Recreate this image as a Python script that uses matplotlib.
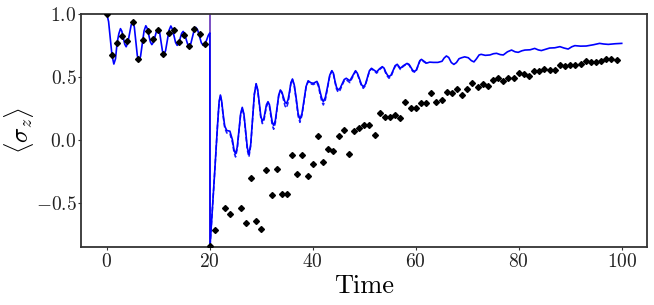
import numpy as np
import matplotlib
matplotlib.use("Agg")
import matplotlib.pyplot as plt

plt.rcParams['font.family'] = 'serif'
plt.rcParams['font.serif'] = ['cmr10']
plt.rcParams['mathtext.fontset'] = 'cm'
plt.rcParams['axes.formatter.use_mathtext'] = True
plt.rcParams['axes.unicode_minus'] = True

nan = np.nan

# measured points (black diamonds), t = 0..99
t_data = np.arange(0, 100)
sz_data = [1.0, 0.672, 0.772, 0.828, 0.786, 0.936, 0.645, 0.796, 0.865, 0.804,
           0.870, 0.685, 0.847, 0.870, 0.780, 0.831, 0.746, 0.884, 0.841, 0.762,
           -0.84, -0.714, nan, -0.542, -0.587, nan, -0.537, -0.656, -0.304, -0.640,
           -0.709, -0.238, -0.439, -0.228, -0.431, -0.429, -0.119, -0.270, -0.119, -0.283,
           -0.190, 0.034, -0.175, -0.071, -0.085, 0.034, 0.082, -0.109, 0.074, 0.095,
           0.122, 0.119, 0.040, 0.214, 0.183, 0.183, 0.201, 0.175, 0.302, 0.251,
           0.251, 0.291, 0.296, 0.370, 0.299, 0.317, 0.378, 0.376, 0.405, 0.355,
           0.407, 0.450, 0.421, 0.447, 0.431, 0.479, 0.492, 0.466, 0.494, 0.494,
           0.529, 0.527, 0.511, 0.545, 0.550, 0.566, 0.553, 0.556, 0.593, 0.590,
           0.593, 0.593, 0.603, 0.627, 0.617, 0.622, 0.627, 0.640, 0.645, 0.637]

# exact simulated curve (solid), read in three stretches
t_exact_early = [0.0, 0.34, 0.68, 1.0, 1.36, 1.68, 2.0, 2.33, 2.65, 2.92,
                 3.2, 3.47, 3.75, 4.07, 4.4, 4.72, 5.05, 5.34, 5.63, 5.92,
                 6.21, 6.55, 6.89, 7.23, 7.57, 7.86, 8.15, 8.45, 8.74, 9.05,
                 9.35, 9.66, 9.97, 10.25, 10.52, 10.8, 11.07, 11.41, 11.75, 12.09,
                 12.43, 12.74, 13.05, 13.35, 13.66, 13.95, 14.24, 14.53, 14.82, 15.11,
                 15.4, 15.7, 15.99, 16.31, 16.63, 16.96, 17.28, 17.64, 17.99, 18.35,
                 18.7, 19.0, 19.35, 19.7, 20.0]
sz_exact_early = [1.0, 0.94, 0.80, 0.672, 0.603, 0.644, 0.772, 0.843, 0.884, 0.863,
                  0.812, 0.761, 0.74, 0.77, 0.84, 0.912, 0.942, 0.896, 0.783, 0.67,
                  0.624, 0.665, 0.765, 0.866, 0.907, 0.885, 0.832, 0.779, 0.757, 0.776,
                  0.82, 0.865, 0.884, 0.854, 0.78, 0.707, 0.677, 0.71, 0.79, 0.872,
                  0.905, 0.88, 0.828, 0.774, 0.751, 0.767, 0.806, 0.846, 0.862, 0.845,
                  0.80, 0.76, 0.743, 0.765, 0.818, 0.872, 0.894, 0.873, 0.822, 0.772,
                  0.751, 0.762, 0.79, 0.83, 0.85]

t_mid = [20.05, 20.5, 21.0, 21.5, 21.8, 22.05, 22.3, 22.6, 22.9, 23.3,
         23.9, 24.4, 24.7, 25.0, 25.33, 25.65, 25.98, 26.3, 26.63, 26.95,
         27.28, 27.6, 27.95, 28.3, 28.65, 29.0, 29.3, 29.6, 29.9, 30.2,
         30.5, 30.75, 31.0, 31.3, 31.58, 31.85, 32.13, 32.4, 32.73, 33.05,
         33.38, 33.7, 34.0, 34.3, 34.6, 34.9, 35.2, 35.5, 35.75, 36.05,
         36.4, 36.8, 37.15, 37.5, 37.9, 38.3, 38.7, 39.1, 39.6, 40.1,
         40.8, 41.1, 41.4, 41.75, 42.05, 42.45, 42.9, 43.3, 43.7, 44.0,
         44.3, 44.6, 44.9, 45.3, 45.7, 46.1, 46.5, 47.2, 48.3, 48.65,
         49.05, 49.45, 49.8, 50.2, 50.6, 51.0, 51.4, 51.9, 52.4, 52.95,
         53.5, 53.85, 54.15, 54.5, 54.8, 55.2, 55.6, 56.0, 56.4, 57.0,
         57.6, 58.3, 58.7, 59.05, 59.4, 59.8, 60.1, 60.45, 60.8, 61.1,
         61.6, 62.1]
sz_exact_mid = [-0.84, -0.55, -0.22, 0.12, 0.30, 0.357, 0.31, 0.2, 0.11, 0.075,
                0.07, 0.0, -0.08, -0.11, -0.056, 0.075, 0.205, 0.259, 0.204, 0.072,
                -0.06, -0.115, -0.033, 0.166, 0.365, 0.447, 0.40, 0.30, 0.19, 0.15,
                0.17, 0.227, 0.28, 0.304, 0.28, 0.21, 0.14, 0.115, 0.156, 0.256,
                0.356, 0.397, 0.38, 0.34, 0.30, 0.29, 0.32, 0.39, 0.455, 0.484,
                0.437, 0.324, 0.21, 0.164, 0.21, 0.317, 0.425, 0.47, 0.455, 0.45,
                0.465, 0.44, 0.385, 0.33, 0.304, 0.34, 0.43, 0.515, 0.55, 0.53,
                0.47, 0.42, 0.397, 0.41, 0.445, 0.48, 0.49, 0.47, 0.55, 0.53,
                0.487, 0.44, 0.423, 0.44, 0.496, 0.55, 0.569, 0.555, 0.54, 0.565,
                0.582, 0.57, 0.54, 0.515, 0.503, 0.515, 0.552, 0.59, 0.601, 0.569,
                0.59, 0.608, 0.60, 0.577, 0.553, 0.545, 0.555, 0.592, 0.63, 0.640,
                0.625, 0.61]

t_exact_late = [62.7, 63.4, 64.3, 65.1, 65.5, 65.95, 66.4, 66.9, 67.4, 67.9,
                68.4, 68.9, 69.5, 70.2, 70.8, 71.3, 71.8, 72.3, 72.7, 73.5,
                74.4, 75.1, 75.7, 76.4, 77.0, 77.8, 78.6, 79.3, 79.9, 80.6,
                81.2, 82.2, 83.1, 83.8, 84.4, 85.2, 86.0, 87.0, 88.0, 88.8,
                89.6, 90.3, 90.9, 92.0, 93.1, 94.5, 95.7, 96.5, 97.4, 98.7,
                100.0]
sz_exact_late = [0.618, 0.616, 0.616, 0.625, 0.65, 0.667, 0.655, 0.615, 0.60, 0.615,
                 0.645, 0.653, 0.66, 0.653, 0.63, 0.62, 0.645, 0.675, 0.68, 0.672,
                 0.675, 0.685, 0.688, 0.678, 0.675, 0.70, 0.714, 0.70, 0.696, 0.708,
                 0.714, 0.716, 0.727, 0.715, 0.71, 0.72, 0.73, 0.732, 0.741, 0.73,
                 0.722, 0.74, 0.749, 0.745, 0.746, 0.756, 0.767, 0.762, 0.759, 0.764,
                 0.767]

# approximate curve (dashed), where it separates from the exact one
sz_approx_mid = [-0.84, -0.55, -0.22, 0.12, 0.30, 0.355, 0.30, 0.185, 0.095, 0.055,
                 0.05, -0.02, -0.10, -0.135, -0.07, 0.065, 0.20, 0.255, 0.195, 0.06,
                 -0.08, -0.135, -0.045, 0.16, 0.36, 0.445, 0.39, 0.285, 0.175, 0.13,
                 0.15, 0.21, 0.265, 0.29, 0.265, 0.19, 0.115, 0.085, 0.135, 0.245,
                 0.35, 0.39, 0.37, 0.32, 0.27, 0.255, 0.295, 0.375, 0.45, 0.48,
                 0.43, 0.31, 0.19, 0.14, 0.195, 0.305, 0.42, 0.465, 0.445, 0.44,
                 0.455, 0.425, 0.365, 0.305, 0.278, 0.32, 0.42, 0.51, 0.548, 0.525,
                 0.46, 0.405, 0.38, 0.395, 0.435, 0.47, 0.478, 0.455, 0.545, 0.525,
                 0.477, 0.43, 0.41, 0.43, 0.49, 0.545, 0.565, 0.55, 0.53, 0.558,
                 0.578, 0.565, 0.532, 0.505, 0.49, 0.505, 0.545, 0.585, 0.597, 0.56,
                 0.585, 0.605, 0.595, 0.57, 0.545, 0.538, 0.55, 0.588, 0.628, 0.638,
                 0.62, 0.607]

x_ticks = [0, 20, 40, 60, 80, 100]
y_ticks = [-0.5, 0.0, 0.5, 1.0]

t_exact = t_exact_early + t_mid + t_exact_late
sz_exact = sz_exact_early + sz_exact_mid + sz_exact_late

fig = plt.figure(figsize=(6.54, 3.05), dpi=100)
ax = fig.add_axes([0.124, 0.19, 0.866, 0.764])

ax.axvline(20, color='#7a4fc4', lw=1.4, zorder=1)
ax.plot(t_mid, sz_approx_mid, color='#1a1aff', lw=1.1, ls='--', dashes=(3, 1.5), zorder=2)
ax.plot(t_exact, sz_exact, color='#0000ff', lw=1.2, zorder=3)
ax.plot(t_data, sz_data, ls='none', marker='D', color='black', markersize=3, zorder=4)

ax.set_xlim(-5, 105)
ax.set_ylim(-0.85, 1.0)
ax.set_xticks(x_ticks)
ax.set_yticks(y_ticks)
ax.tick_params(labelsize=14, direction='out', length=2.5, width=0.8, pad=0.8,
               colors='#333333', labelcolor='#222222')
ax.tick_params(axis='x', pad=2)
for s in ax.spines.values():
    s.set_linewidth(1.3)
    s.set_color('#333333')
ax.set_xlabel('Time', fontsize=19, labelpad=2)
ax.set_ylabel(r'$\langle\sigma_z\rangle$', fontsize=18)
ax.yaxis.set_label_coords(-0.08, 0.5)

fig.savefig('out.png', dpi=100)
